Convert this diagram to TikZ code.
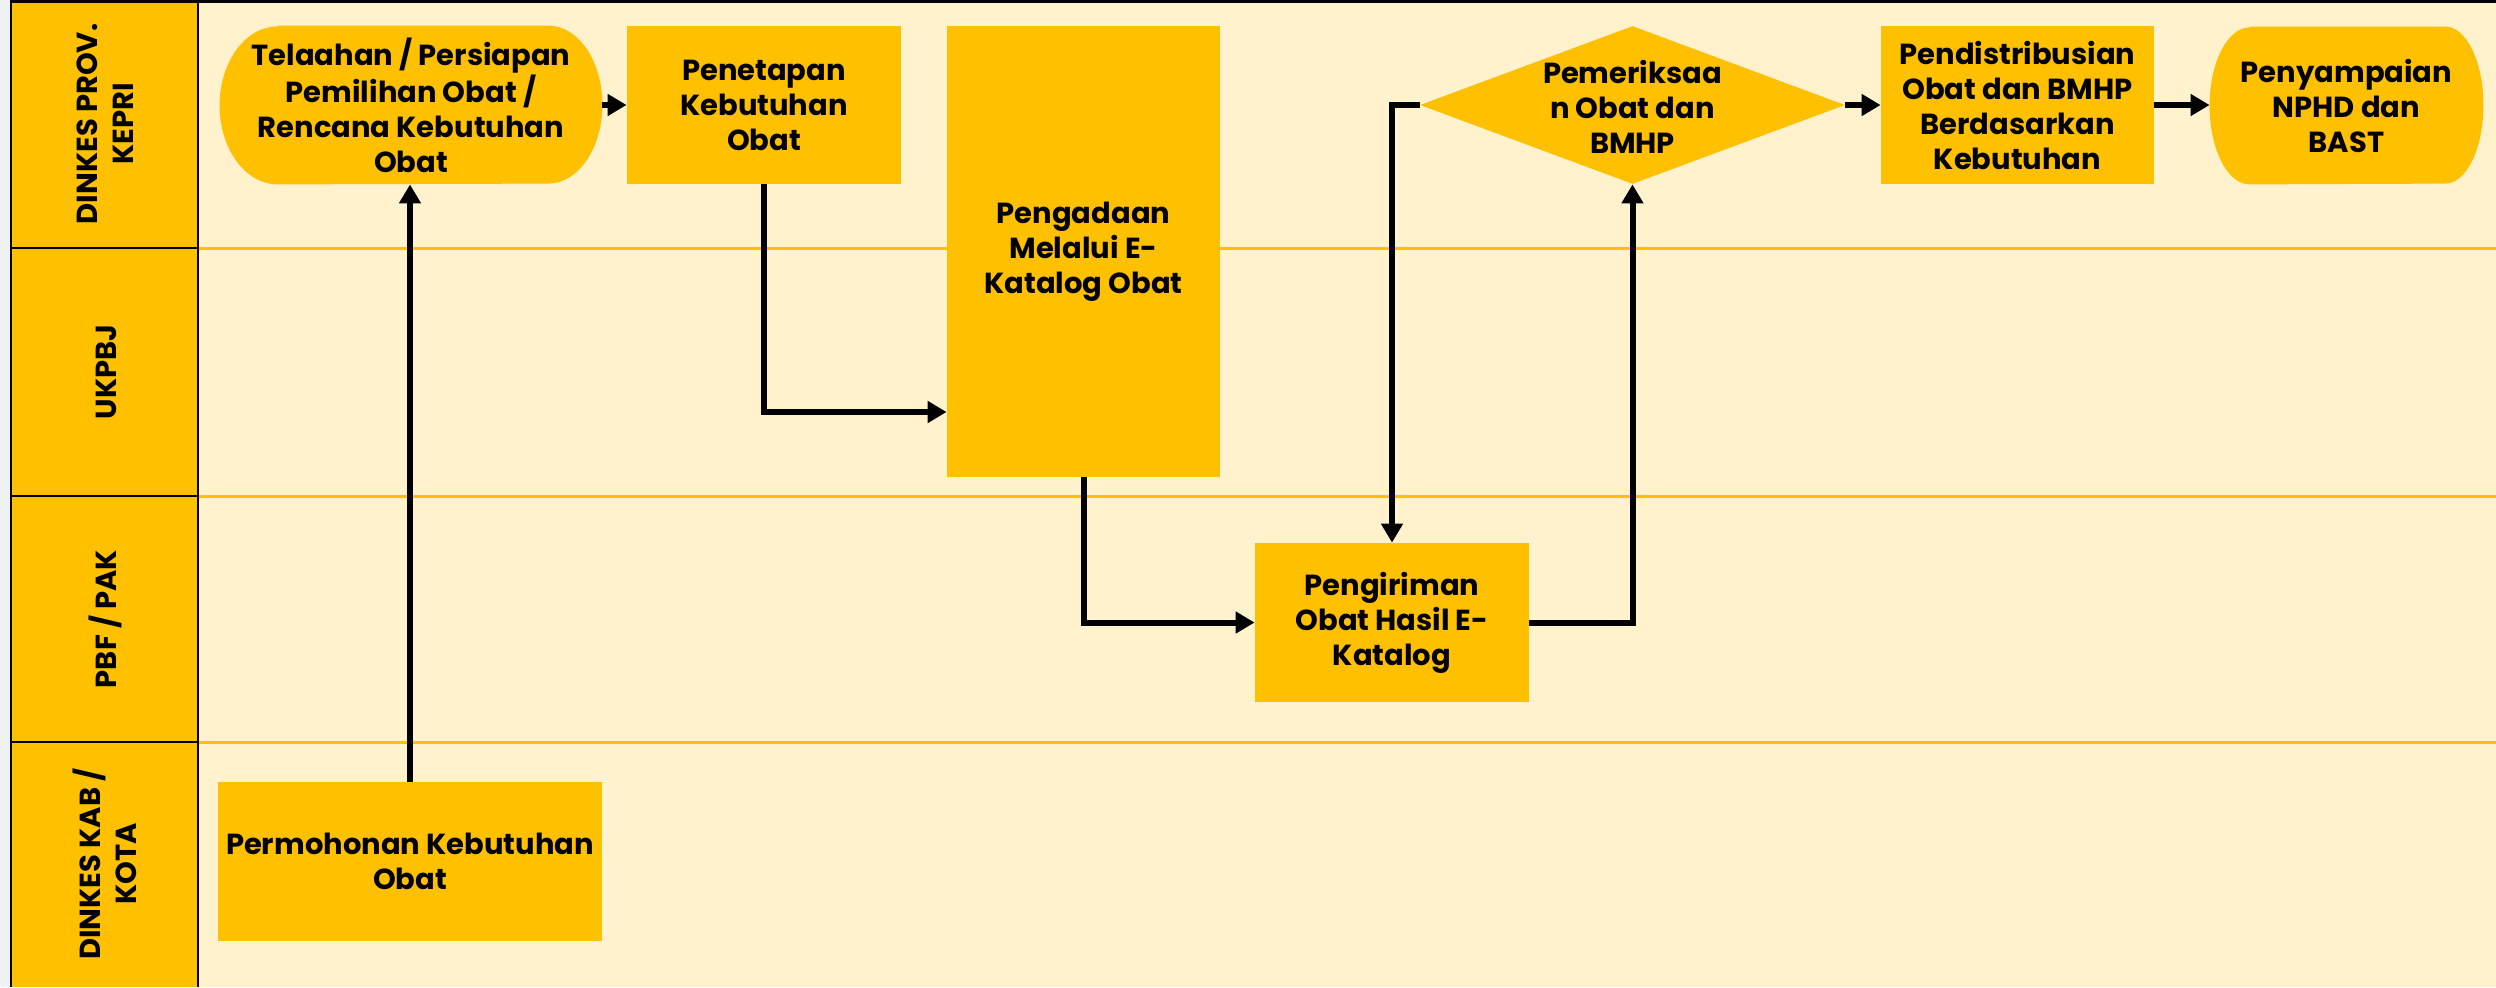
\documentclass[tikz,border=0pt]{standalone}
\usepackage{fontspec}
\setmainfont{Poppins}
\usetikzlibrary{arrows.meta,shapes.geometric}
\definecolor{gold}{HTML}{FFC000}
\definecolor{lanebg}{HTML}{FFF2CC}
\definecolor{marginbg}{HTML}{EFF1F3}
\pgfdeclarelayer{bgzero}
\pgfdeclarelayer{bgone}
\pgfsetlayers{bgzero,bgone,main}
\newcommand{\nodefnt}{\fontsize{14.5}{17.5}\selectfont\bfseries}
\newcommand{\hdrfnt}{\fontsize{14.5}{18}\selectfont\bfseries}
\begin{document}
\begin{tikzpicture}[x=0.5pt,y=-0.5pt,
  box/.style={rectangle, fill=gold, inner sep=0pt, align=center, font=\nodefnt, text=black},
  plain/.style={rectangle, inner sep=0pt, align=center, font=\nodefnt, text=black},
  hdr/.style={rotate=90, align=center, font=\hdrfnt, text=black, inner sep=0pt},
  arr/.style={line width=3pt, -{Triangle[length=9.5pt,width=10.5pt]}},
  lanesep/.style={gold, line width=1.5pt},
  hdrsep/.style={black, line width=1.2pt}]
\useasboundingbox (0,0) rectangle (2496,987);
\begin{pgfonlayer}{bgzero}
  \fill[marginbg] (0,0) rectangle (11,987);
  \fill[lanebg] (198,0) rectangle (2496,987);
  \fill[gold] (11,0) rectangle (198,987);
  \draw[lanesep] (198,248) -- (2496,248);
  \draw[lanesep] (198,496) -- (2496,496);
  \draw[lanesep] (198,742) -- (2496,742);
  \draw[hdrsep] (11,248) -- (198,248);
  \draw[hdrsep] (11,496) -- (198,496);
  \draw[hdrsep] (11,742) -- (198,742);
  \draw[black, line width=1.3pt] (11,0) -- (11,987);
  \draw[black, line width=1.2pt] (198,0) -- (198,987);
  \draw[black, line width=1.6pt] (10,1.5) -- (2496,1.5);
\end{pgfonlayer}

% lane headers
\node[hdr] (h1) at (105,124) {DINKES PROV.\\KEPRI};
\node[hdr] (h2) at (106,372) {UKPBJ};
\node[hdr] (h3) at (105,619) {PBF / PAK};
\node[hdr] (h4) at (105,864) {DINKES KAB /\\KOTA};

% process nodes
\node[plain, minimum width=191pt, minimum height=79pt] (tel) at (411,105)
  {Telaahan / Persiapan\\Pemilihan Obat /\\Rencana Kebutuhan\\Obat};
\node[box, minimum width=137pt, minimum height=79pt] (pen) at (764,105)
  {Penetapan\\Kebutuhan\\Obat};
\node[box, minimum width=136.5pt, minimum height=225.5pt] (pgd) at (1083.5,251.5)
  {Pengadaan\\Melalui E-\\Katalog Obat};
\node[diamond, fill=gold, inner sep=0pt, minimum width=212.5pt, minimum height=79pt] (dia) at (1632.5,105) {};
\node[plain] (diat) at (1632.5,107) {Pemeriksaa\\n Obat dan\\BMHP};
\node[box, minimum width=136.5pt, minimum height=79pt] (dist) at (2017.5,105)
  {Pendistribusian\\Obat dan BMHP\\Berdasarkan\\Kebutuhan};
\node[plain, minimum width=136.5pt, minimum height=78.5pt] (nphd) at (2346.5,105.5)
  {Penyampaian\\NPHD dan\\BAST};
\node[box, minimum width=137pt, minimum height=79.5pt] (kirim) at (1392,622.5)
  {Pengiriman\\Obat Hasil E-\\Katalog};
\node[box, minimum width=192pt, minimum height=79.5pt] (mohon) at (410,861.5)
  {Permohonan Kebutuhan\\Obat};

% terminator shapes
\begin{pgfonlayer}{bgone}
  \fill[gold] ([xshift=29pt]tel.north west) -- ([xshift=-27pt]tel.north east)
    arc[start angle=90, end angle=-90, x radius=27pt, y radius=39.5pt]
    -- ([xshift=29pt]tel.south west)
    arc[start angle=270, end angle=90, x radius=29pt, y radius=39.5pt] -- cycle;
  \fill[gold] ([xshift=20pt]nphd.north west) -- ([xshift=-19pt]nphd.north east)
    arc[start angle=90, end angle=-90, x radius=19pt, y radius=39.25pt]
    -- ([xshift=20pt]nphd.south west)
    arc[start angle=270, end angle=90, x radius=20pt, y radius=39.25pt] -- cycle;
\end{pgfonlayer}

\coordinate (ya) at (0,412);

% connectors
\draw[arr] (tel.east) -- (pen.west);
\draw[arr] (pen.south) |- (pgd.west |- ya);
\draw[arr] (pgd.south) |- (kirim.west);
\draw[arr] (kirim.east) -| (dia.south);
\draw[arr] (dia.west) -| (kirim.north);
\draw[arr] (dia.east) -- (dist.west);
\draw[arr] (dist.east) -- (dist.east -| nphd.west);
\draw[arr] (mohon.north) -- (mohon.north |- tel.south);
\end{tikzpicture}
\end{document}
